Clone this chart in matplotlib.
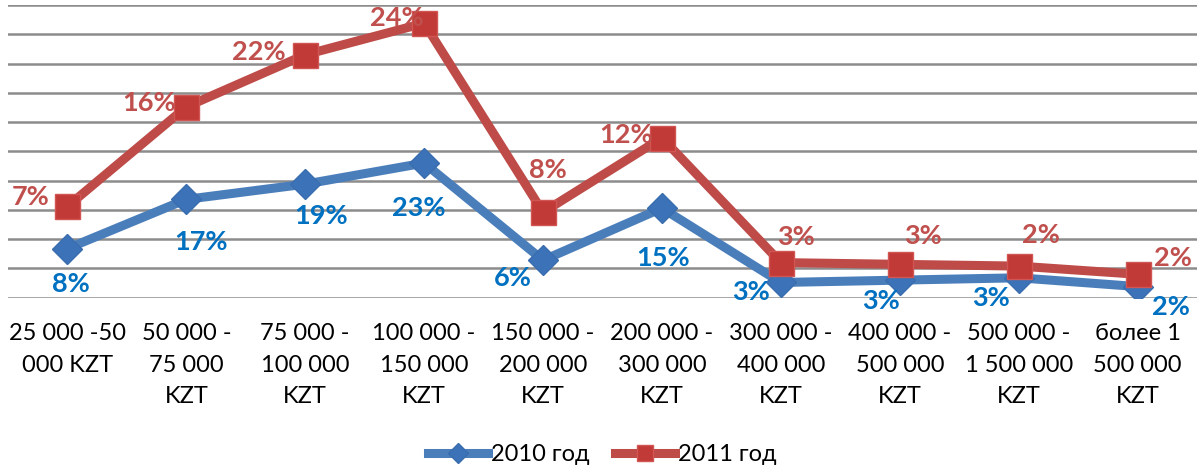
import matplotlib
matplotlib.use("Agg")
import matplotlib.pyplot as plt
import numpy as np

categories = ["25 000 -50\n000 KZT", "50 000 -\n75 000\nKZT", "75 000 -\n100 000\nKZT",
              "100 000 -\n150 000\nKZT", "150 000 -\n200 000\nKZT", "200 000 -\n300 000\nKZT",
              "300 000 -\n400 000\nKZT", "400 000 -\n500 000\nKZT", "500 000 -\n1 500 000\nKZT",
              "более 1\n500 000\nKZT"]
v2010 = [8.4, 16.8, 19.4, 23.0, 6.4, 15.3, 2.6, 3.0, 3.4, 1.9]
v2011 = [7.2, 15.8, 22.1, 23.9, 8.2, 12.0, 3.4, 2.7, 2.0, 2.1]
series_names = ["2010 год", "2011 год"]

plt.rcParams['font.family'] = ['Lato', 'DejaVu Sans']

fig = plt.figure(figsize=(11.98, 4.68), dpi=100)
ax = fig.add_axes([8/1198, 1 - 297.7/468, 1189/1198, 292.7/468])

x = np.arange(len(categories))
y1 = np.array(v2010)
y2 = y1 + np.array(v2011)   # stacked line

ax.set_ylim(0, 50)
ax.set_xlim(-0.5, len(categories) - 0.5)
ax.set_yticks(np.arange(0, 51, 5))
ax.yaxis.grid(True, color="#8c8c8c", linewidth=1.8)
ax.set_axisbelow(True)
for s in ax.spines.values():
    s.set_visible(False)
ax.tick_params(axis="y", left=False, labelleft=False)
ax.tick_params(axis="x", bottom=False, pad=15, labelsize=17)
ax.set_xticks(x)
ax.set_xticklabels(categories, linespacing=1.6, va="top")

ax.plot(x, y1, color="#4A7EBB", linewidth=6.5, marker="D", markersize=15,
        markerfacecolor="#3C72B8", markeredgecolor="#3A6DAE", label=series_names[0], zorder=3)
ax.plot(x, y2, color="#BE4B48", linewidth=6.5, marker="s", markersize=18,
        markerfacecolor="#C23A37", markeredgecolor="#D05553", label=series_names[1], zorder=4)

# label offsets in pixels (dx, dy)
off2010 = [(3, -35), (15, -43), (16, -32), (-5, -45), (-30, -18), (1, -50),
           (-30, -10), (-19, -21), (-28, -20), (33, -20)]
off2011 = [(-37, 9), (-37, 4), (-46, 3), (-27, 5), (5, 42), (-36, 3),
           (15, 26), (23, 28), (22, 31), (35, 16)]
for i in range(len(x)):
    ax.annotate(f"{round(v2010[i])}%", (x[i], y1[i]), xytext=off2010[i], textcoords="offset pixels",
                ha="center", va="center", fontsize=19.5, fontweight="bold", color="#0070C0", zorder=5)
    ax.annotate(f"{round(v2011[i])}%", (x[i], y2[i]), xytext=off2011[i], textcoords="offset pixels",
                ha="center", va="center", fontsize=19.5, fontweight="bold", color="#C0504D", zorder=5)

ax.legend(loc="center", bbox_to_anchor=(0.5, -0.535), ncol=2, frameon=False, fontsize=17,
          handlelength=2.55, columnspacing=1.05, handletextpad=0.13, markerscale=0.65)

fig.savefig("out.png", dpi=100)
